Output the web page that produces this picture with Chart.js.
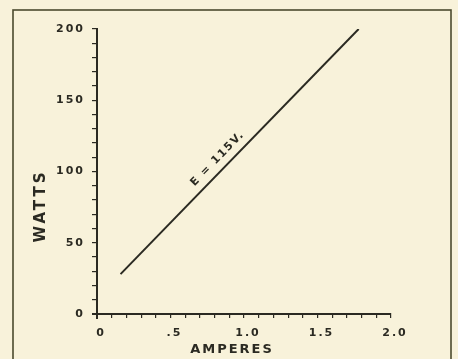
<!DOCTYPE html>
<html>
<head>
<meta charset="utf-8">
<script src="https://cdn.jsdelivr.net/npm/chart.js@4/dist/chart.umd.min.js"></script>
<style>
  html, body { margin: 0; padding: 0; background: #f8f2da; }
  #wrap { width: 458px; height: 359px; }
</style>
</head>
<body>
<div id="wrap"><canvas id="c" width="458" height="359"></canvas></div>
<script>
// Power drawn at 115 volts: watts against amperes
const amperes = [0.16, 1.78];
const watts = [28, 200];

const xTickLabels = { 0: '0', 5: '.5', 10: '1.0', 15: '1.5', 20: '2.0' };
const yTickLabels = [0, 50, 100, 150, 200];
const curveLabel = 'E = 115V.';
const xTitle = 'AMPERES';
const yTitle = 'WATTS';

const ink = '#2b2a22';
const paper = '#f8f2da';
const tickFont = { family: 'DejaVu Sans', weight: 'bold', size: 11 };

// paper background, outer frame, wide spacing for the hand lettering
const framePlugin = {
  id: 'frame',
  beforeDraw(chart) {
    const ctx = chart.ctx;
    ctx.save();
    ctx.fillStyle = paper;
    ctx.fillRect(0, 0, chart.width, chart.height);
    ctx.strokeStyle = '#4b4a2e';
    ctx.lineWidth = 1.6;
    ctx.strokeRect(13, 10, 438, 360);
    ctx.restore();
    ctx.letterSpacing = '2px';
  },
  afterDraw(chart) {
    const ctx = chart.ctx;
    const xs = chart.scales.x, ys = chart.scales.y;
    const ca = chart.chartArea;

    // axes run a little past the origin
    ctx.save();
    ctx.strokeStyle = ink;
    ctx.lineWidth = 2;
    ctx.beginPath();
    ctx.moveTo(ca.left - 5, ca.bottom);
    ctx.lineTo(ca.left, ca.bottom);
    ctx.moveTo(ca.left, ca.bottom);
    ctx.lineTo(ca.left, ca.bottom + 5);
    ctx.stroke();
    ctx.restore();

    // label lying along the curve
    const x0 = xs.getPixelForValue(amperes[0]), y0 = ys.getPixelForValue(watts[0]);
    const x1 = xs.getPixelForValue(amperes[1]), y1 = ys.getPixelForValue(watts[1]);
    const ang = Math.atan2(y1 - y0, x1 - x0);
    const t = 0.44;
    const px = x0 + (x1 - x0) * t, py = y0 + (y1 - y0) * t;
    const off = 8;
    ctx.save();
    ctx.translate(px + Math.sin(ang) * off, py - Math.cos(ang) * off);
    ctx.rotate(ang);
    ctx.letterSpacing = '1.5px';
    ctx.font = 'bold 11px "DejaVu Sans"';
    ctx.fillStyle = ink;
    ctx.textAlign = 'center';
    ctx.textBaseline = 'alphabetic';
    ctx.fillText(curveLabel, 0, 0);
    ctx.restore();

    // axis titles
    ctx.save();
    ctx.fillStyle = ink;
    ctx.textAlign = 'center';
    ctx.textBaseline = 'middle';
    ctx.font = 'bold 13px "DejaVu Sans"';
    ctx.letterSpacing = '2px';
    ctx.fillText(xTitle, 232, 350);
    ctx.translate(41, 206);
    ctx.rotate(-Math.PI / 2);
    ctx.font = 'bold 15px "DejaVu Sans"';
    ctx.letterSpacing = '3px';
    ctx.fillText(yTitle, 0, 0);
    ctx.restore();
  }
};

new Chart(document.getElementById('c'), {
  type: 'line',
  data: {
    datasets: [{
      data: amperes.map((a, i) => ({ x: a, y: watts[i] })),
      borderColor: ink,
      borderWidth: 2,
      pointRadius: 0,
      tension: 0,
      fill: false
    }]
  },
  options: {
    responsive: false,
    animation: false,
    events: [],
    layout: { padding: { left: 30, right: 67, top: 29, bottom: 4 } },
    plugins: { legend: { display: false }, tooltip: { enabled: false } },
    scales: {
      x: {
        type: 'linear',
        min: 0, max: 2.0,
        border: { color: ink, width: 2 },
        grid: { drawOnChartArea: false, color: ink, tickLength: 4, lineWidth: 1.2 },
        ticks: {
          stepSize: 0.1,
          autoSkip: false,
          maxRotation: 0,
          color: ink,
          font: tickFont,
          padding: 9,
          labelOffset: 4,
          callback: (v) => {
            const k = Math.round(v * 10);
            return xTickLabels[k] !== undefined ? xTickLabels[k] : '';
          }
        },
        afterFit(scale) { scale.height = 41; }
      },
      y: {
        type: 'linear',
        min: 0, max: 200,
        border: { color: ink, width: 2 },
        grid: { drawOnChartArea: false, color: ink, tickLength: 5, lineWidth: 1.2 },
        ticks: {
          stepSize: 10,
          autoSkip: false,
          color: ink,
          font: tickFont,
          padding: 7,
          callback: (v) => yTickLabels.includes(v) ? String(v) : ''
        },
        afterFit(scale) { scale.width = 67; }
      }
    }
  },
  plugins: [framePlugin]
});
</script>
</body>
</html>
